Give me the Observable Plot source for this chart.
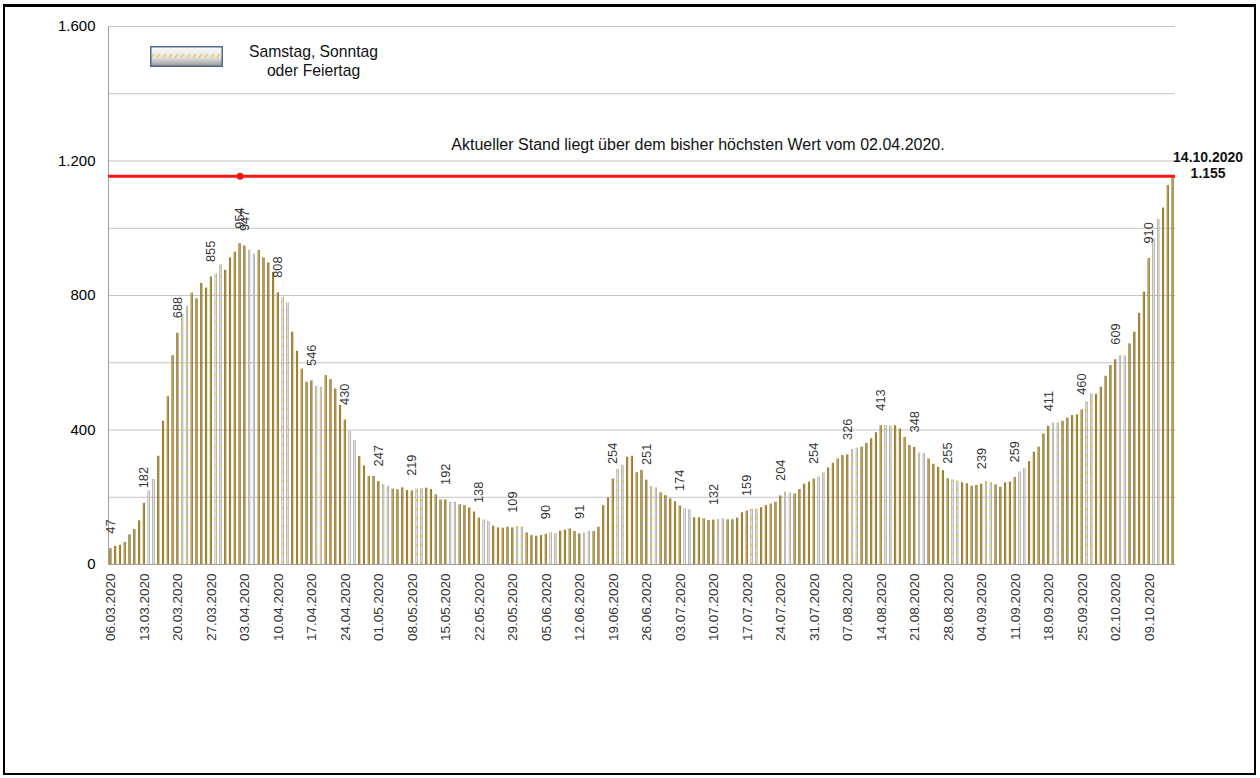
<!DOCTYPE html>
<html><head><meta charset="utf-8">
<script src="https://cdn.jsdelivr.net/npm/d3@7"></script>
<script src="https://cdn.jsdelivr.net/npm/@observablehq/plot@0.6"></script>
<style>
body{margin:0;background:#fff;font-family:Arial,"Liberation Sans",sans-serif;}
#frame{position:absolute;left:3px;top:4px;width:1253px;height:771px;border:2px solid #000;border-top:3px solid #000;box-sizing:border-box;pointer-events:none;}
#chart{position:absolute;left:0;top:0;}
#legend{position:absolute;left:150px;top:46px;display:flex;align-items:flex-start;}
#legend .txt{margin-left:26px;margin-top:-4px;font-size:15.7px;line-height:19px;text-align:center;color:#111;}
</style></head><body>
<div id="chart"></div>
<div id="legend">
  <svg width="73" height="21" style="display:block">
    <defs>
      <linearGradient id="lgGrey" x1="0" y1="0" x2="0" y2="1">
        <stop offset="0" stop-color="#fdfdfd"/><stop offset="0.55" stop-color="#e2e2e2"/><stop offset="1" stop-color="#979797"/>
      </linearGradient>
      <pattern id="lgDash" patternUnits="userSpaceOnUse" width="6" height="21">
        <line x1="1" y1="12" x2="3.5" y2="8" stroke="#f2c200" stroke-width="1"/>
      </pattern>
    </defs>
    <rect x="0.75" y="0.75" width="71.5" height="19.5" fill="url(#lgGrey)"/>
    <rect x="0.75" y="0.75" width="71.5" height="19.5" fill="url(#lgDash)" stroke="#50698c" stroke-width="1.5"/>
  </svg>
  <div class="txt">Samstag, Sonntag<br>oder Feiertag</div>
</div>
<div id="frame"></div>
<script>
// categories: one bar per day from 06.03.2020 to 14.10.2020
const startDay = new Date(Date.UTC(2020, 2, 6));
const endDay = new Date(Date.UTC(2020, 9, 15)); // exclusive
const firstMarkedWeekend = new Date(Date.UTC(2020, 2, 14));

// daily values
const cases = [
  47,54,57,66,88,104,130,182,219,253,
  322,426,499,621,688,743,768,807,790,836,
  822,855,864,891,875,912,929,954,947,935,
  923,934,912,897,869,808,795,778,691,634,
  581,542,546,530,527,562,550,522,473,430,
  396,369,321,293,262,262,247,238,233,224,
  222,228,220,219,225,226,227,223,207,192,
  192,185,185,178,175,168,156,138,133,128,
  114,109,108,111,109,113,111,94,86,84,
  86,90,95,92,99,102,106,98,91,94,
  99,98,111,175,198,254,283,295,319,322,
  273,280,251,232,228,213,205,195,187,174,
  166,163,139,139,136,131,132,134,136,133,
  133,138,154,159,164,164,169,175,180,185,
  204,215,212,210,223,239,245,254,260,273,
  287,301,314,324,326,342,346,349,360,374,
  392,413,413,412,413,403,378,354,348,332,
  330,314,298,289,279,255,252,248,243,240,
  233,235,239,247,243,237,230,243,245,259,
  275,286,306,334,349,388,411,421,421,426,
  435,443,445,460,483,507,506,527,560,592,
  609,621,621,656,691,747,810,910,968,1026,
  1060,1127,1155
];

// x tick labels
const xTickLabels = [
  "06.03.2020","13.03.2020","20.03.2020","27.03.2020","03.04.2020","10.04.2020","17.04.2020","24.04.2020",
  "01.05.2020","08.05.2020","15.05.2020","22.05.2020","29.05.2020","05.06.2020","12.06.2020","19.06.2020",
  "26.06.2020","03.07.2020","10.07.2020","17.07.2020","24.07.2020","31.07.2020","07.08.2020","14.08.2020",
  "21.08.2020","28.08.2020","04.09.2020","11.09.2020","18.09.2020","25.09.2020","02.10.2020","09.10.2020"
];
// dates with a value label
const labelledDates = xTickLabels.concat(["02.04.2020"]);
const peakDate = "02.04.2020";
// y axis
const yTickValues = [0, 400, 800, 1200, 1600];
const yGridValues = [200, 400, 600, 800, 1000, 1200, 1400, 1600];
const annotation = "Aktueller Stand liegt über dem bisher höchsten Wert vom 02.04.2020.";

const fmtDate = d3.utcFormat("%d.%m.%Y");
const fmtNum = d => d.toLocaleString("de-DE");
const days = d3.utcDay.range(startDay, endDay);
const data = days.map((d, i) => ({
  key: fmtDate(d),
  value: cases[i],
  weekend: (d.getUTCDay() === 0 || d.getUTCDay() === 6) && d >= firstMarkedWeekend
}));
const keys = data.map(d => d.key);
const weekdays = data.filter(d => !d.weekend);
const weekends = data.filter(d => d.weekend);
const labelled = data.filter(d => labelledDates.includes(d.key));
const last = data[data.length - 1];
const peak = {key: peakDate, value: last.value};

const W = 1260, H = 778, mL = 108, mR = 85, mT = 26, mB = 214;
const bw = (W - mL - mR) / keys.length;
const font = "Arial, 'Liberation Sans', sans-serif";
const inset = 1.35;

const chart = Plot.plot({
  width: W, height: H,
  marginLeft: mL, marginRight: mR, marginTop: mT, marginBottom: mB,
  style: {fontFamily: font, background: "transparent", overflow: "visible"},
  x: {type: "band", domain: keys, padding: 0, axis: null, label: null},
  y: {domain: [0, 1600], axis: null, label: null},
  marks: [
    Plot.gridY(yGridValues, {stroke: "#c4c4c4", strokeOpacity: 1}),
    Plot.ruleY([0], {stroke: "#a0a0a0"}),
    Plot.ruleX([keys[0]], {dx: -bw / 2, stroke: "#a0a0a0"}),
    Plot.barY(weekdays, {x: "key", y: "value", fill: "url(#goldGrad)", insetLeft: inset, insetRight: inset}),
    Plot.barY(weekends, {x: "key", y: "value", fill: "url(#greyGrad)", insetLeft: inset, insetRight: inset}),
    Plot.barY(weekends, {x: "key", y: "value", fill: "url(#yellowDash)", insetLeft: inset, insetRight: inset}),
    Plot.ruleY([last.value], {stroke: "#ff1414", strokeWidth: 3}),
    Plot.dot([peak], {x: "key", y: "value", r: 3.5, fill: "#ff1414", stroke: "none"}),
    Plot.text(labelled, {x: "key", y: "value", text: d => fmtNum(d.value), rotate: -90,
      textAnchor: "start", lineAnchor: "middle", dy: -15, fontSize: 12.8, fill: "#333"}),
    Plot.text([annotation], {frameAnchor: "top", dx: 56, dy: 118, lineAnchor: "middle", fontSize: 16, fill: "#111"}),
    Plot.text([last], {x: "key", y: "value", text: d => d.key, dx: 35, dy: -19, lineAnchor: "middle",
      fontSize: 14, fontWeight: "bold", fill: "#111"}),
    Plot.text([last], {x: "key", y: "value", text: d => fmtNum(d.value), dx: 35, dy: -3, lineAnchor: "middle",
      fontSize: 14, fontWeight: "bold", fill: "#111"}),
    Plot.axisY(yTickValues, {tickSize: 0, tickPadding: 13, tickFormat: fmtNum, fontSize: 15, fill: "#000", label: null}),
    Plot.axisX(xTickLabels, {tickSize: 0, tickPadding: 9, tickRotate: -90, fontSize: 13.5, fill: "#333", label: null})
  ]
});

const ns = "http://www.w3.org/2000/svg";
const defs = document.createElementNS(ns, "defs");
defs.innerHTML = `
  <linearGradient id="goldGrad" x1="0" y1="0" x2="1" y2="0">
    <stop offset="0" stop-color="#5a440a"/><stop offset="0.4" stop-color="#c8a643"/>
    <stop offset="0.7" stop-color="#a9872c"/><stop offset="1" stop-color="#654c0e"/>
  </linearGradient>
  <linearGradient id="greyGrad" x1="0" y1="0" x2="1" y2="0">
    <stop offset="0" stop-color="#858585"/><stop offset="0.45" stop-color="#e8e8e8"/>
    <stop offset="0.7" stop-color="#c4c4c4"/><stop offset="1" stop-color="#7c7c7c"/>
  </linearGradient>
  <pattern id="yellowDash" patternUnits="userSpaceOnUse" width="5" height="9">
    <line x1="0.5" y1="7" x2="2.5" y2="3.5" stroke="#f0c000" stroke-width="1"/>
  </pattern>`;
chart.insertBefore(defs, chart.firstChild);
document.getElementById("chart").appendChild(chart);
</script>
</body></html>
